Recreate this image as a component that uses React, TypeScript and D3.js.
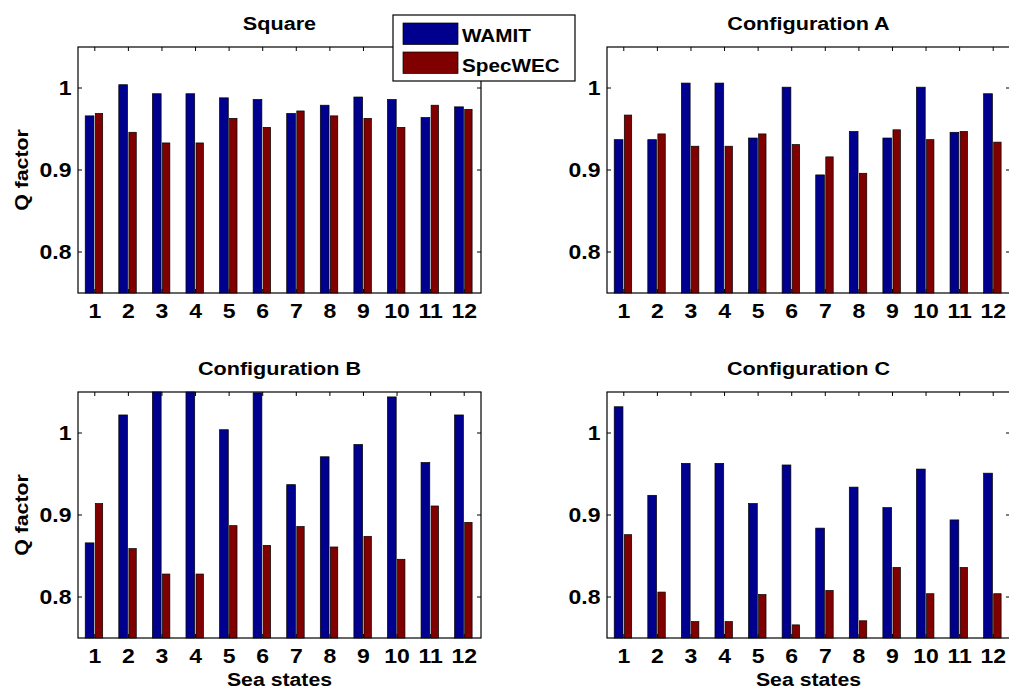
import React, { useEffect, useRef } from 'react';
import * as d3 from 'd3';

const seaStates = ['1', '2', '3', '4', '5', '6', '7', '8', '9', '10', '11', '12'];
const seriesNames = ['WAMIT', 'SpecWEC'];
const yTicks = [0.8, 0.9, 1];

const squareWamit = [0.966, 1.004, 0.993, 0.993, 0.988, 0.986, 0.969, 0.979, 0.989, 0.986, 0.964, 0.977];
const squareSpec = [0.969, 0.946, 0.933, 0.933, 0.963, 0.952, 0.972, 0.966, 0.963, 0.952, 0.979, 0.974];

const configAWamit = [0.937, 0.937, 1.006, 1.006, 0.939, 1.001, 0.894, 0.947, 0.939, 1.001, 0.946, 0.993];
const configASpec = [0.967, 0.944, 0.929, 0.929, 0.944, 0.931, 0.916, 0.896, 0.949, 0.937, 0.947, 0.934];

const configBWamit = [0.866, 1.022, 1.065, 1.065, 1.004, 1.049, 0.937, 0.971, 0.986, 1.044, 0.964, 1.022];
const configBSpec = [0.914, 0.859, 0.828, 0.828, 0.887, 0.863, 0.886, 0.861, 0.874, 0.846, 0.911, 0.891];

const configCWamit = [1.032, 0.924, 0.963, 0.963, 0.914, 0.961, 0.884, 0.934, 0.909, 0.956, 0.894, 0.951];
const configCSpec = [0.876, 0.806, 0.770, 0.770, 0.803, 0.766, 0.808, 0.771, 0.836, 0.804, 0.836, 0.804];

const colors = ['#00008f', '#800000'];
const font = '"Liberation Sans", Arial, Helvetica, sans-serif';
const stretch = 1.15;

const panels = [
  { title: 'Square', series: [squareWamit, squareSpec], x0: 78, y0: 47, ylab: true, xlab: false },
  { title: 'Configuration A', series: [configAWamit, configASpec], x0: 607, y0: 47, ylab: false, xlab: false },
  { title: 'Configuration B', series: [configBWamit, configBSpec], x0: 78, y0: 392, ylab: true, xlab: true },
  { title: 'Configuration C', series: [configCWamit, configCSpec], x0: 607, y0: 392, ylab: false, xlab: true },
];

const W = 1009;
const H = 691;
const pw = 403;
const ph = 246;

const App: React.FC = () => {
  const svgRef = useRef<SVGSVGElement>(null);

  useEffect(() => {
    if (!svgRef.current) return;
    const svg = d3.select(svgRef.current);
    svg.selectAll('*').remove();

    // text helper: matlab output is a bit wider than Arial, so stretch horizontally
    const txt = (g: any, x: number, y: number, s: string, size: number, anchor: string, rot = 0) =>
      g.append('text')
        .attr('transform', `translate(${x},${y}) rotate(${rot}) scale(${stretch},1)`)
        .attr('text-anchor', anchor)
        .attr('font-family', font)
        .attr('font-weight', 'bold')
        .attr('font-size', size)
        .attr('fill', '#000')
        .text(s);

    panels.forEach((p) => {
      const g = svg.append('g').attr('transform', `translate(${p.x0},${p.y0})`);

      const x = d3.scaleLinear().domain([0.5, 12.5]).range([0, pw]);
      const y = d3.scaleLinear().domain([0.75, 1.05]).range([ph, 0]).clamp(true);
      const unit = x(1) - x(0);

      // inward ticks
      const tl = 4;
      yTicks.forEach((t) => {
        g.append('line').attr('x1', 0).attr('x2', tl).attr('y1', y(t)).attr('y2', y(t)).attr('stroke', '#000');
        g.append('line').attr('x1', pw).attr('x2', pw - tl).attr('y1', y(t)).attr('y2', y(t)).attr('stroke', '#000');
      });
      seaStates.forEach((_, i) => {
        g.append('line').attr('x1', x(i + 1)).attr('x2', x(i + 1)).attr('y1', 0).attr('y2', tl).attr('stroke', '#000');
        g.append('line').attr('x1', x(i + 1)).attr('x2', x(i + 1)).attr('y1', ph).attr('y2', ph - tl).attr('stroke', '#000');
      });

      g.append('rect')
        .attr('x', 0).attr('y', 0).attr('width', pw).attr('height', ph)
        .attr('fill', 'none').attr('stroke', '#000').attr('stroke-width', 1.2);

      // bars
      const offsets = [-0.155, 0.125];
      const widths = [0.26, 0.22];
      p.series.forEach((vals, si) => {
        g.selectAll(`.bar${si}`)
          .data(vals)
          .enter()
          .append('rect')
          .attr('x', (d, i) => x(i + 1 + offsets[si]) - (widths[si] * unit) / 2)
          .attr('y', (d) => y(d))
          .attr('width', widths[si] * unit)
          .attr('height', (d) => ph - y(d))
          .attr('fill', colors[si])
          .attr('stroke', '#000')
          .attr('stroke-width', 0.7);
      });

      // tick labels
      seaStates.forEach((s, i) => txt(g, x(i + 1), ph + 25, s, 20, 'middle'));
      yTicks.forEach((t) => txt(g, -6.5, y(t) + 7, d3.format('~g')(t), 20, 'end'));

      txt(g, pw / 2, -17, p.title, 18.8, 'middle');
      if (p.ylab) txt(g, -50, ph / 2, 'Q factor', 18.5, 'middle', -90);
      if (p.xlab) txt(g, pw / 2, ph + 48, 'Sea states', 18.5, 'middle');
    });

    // legend
    const lg = svg.append('g').attr('transform', 'translate(393,15)');
    lg.append('rect').attr('x', 0).attr('y', 0).attr('width', 182).attr('height', 66)
      .attr('fill', '#fff').attr('stroke', '#000').attr('stroke-width', 1.2);
    seriesNames.forEach((name, i) => {
      lg.append('rect')
        .attr('x', 10).attr('y', 8 + i * 29).attr('width', 55).attr('height', 21.5)
        .attr('fill', colors[i]).attr('stroke', '#000').attr('stroke-width', 0.7);
      txt(lg, 69, 27 + i * 30, name, 18, 'start');
    });
  }, []);

  return (
    <svg
      ref={svgRef}
      width={W}
      height={H}
      style={{ position: 'absolute', left: 0, top: 0, background: '#fff' }}
    />
  );
};

export default App;
